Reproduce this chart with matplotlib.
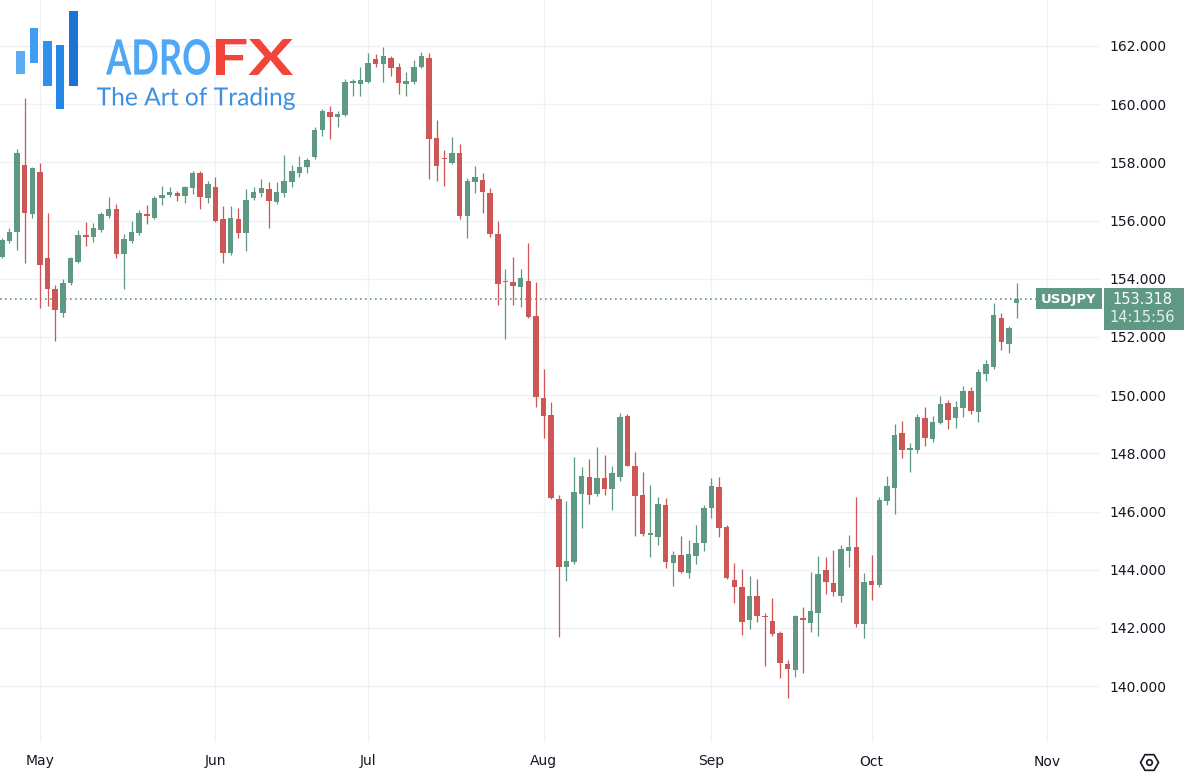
import matplotlib
matplotlib.use("Agg")
import matplotlib.pyplot as plt
from matplotlib.patches import Rectangle, PathPatch
from matplotlib.textpath import TextPath
from matplotlib.font_manager import FontProperties
from matplotlib.transforms import Affine2D
import numpy as np
import pandas as pd

# daily bars, USDJPY, 24 Apr - 28 Oct 2024 (weekdays only)
dates = pd.bdate_range("2024-04-24", "2024-10-28")

opens = [154.76, 155.30, 155.62, 157.90, 156.23,
         157.68, 154.70, 153.65, 152.83, 153.84, 154.59, 155.50, 155.45, 155.68, 156.14,
         156.40, 154.85, 155.31, 155.58, 156.22, 156.10, 156.77, 156.89, 156.96, 156.85,
         157.11, 157.65, 156.77,
         157.17, 156.04, 154.87, 156.04, 155.56, 156.77, 156.96, 157.08, 156.65, 156.96,
         157.34, 157.65, 157.83, 158.17, 159.11, 159.74, 159.57, 159.63, 160.74, 160.69,
         160.75, 161.55, 161.38, 161.60, 161.27, 160.68, 160.75, 161.27, 161.60, 158.83,
         158.14, 157.97, 158.31, 156.14, 157.34, 157.40, 156.96, 155.53, 153.88, 153.88,
         153.71, 153.92, 152.72,
         149.91, 149.32, 146.42, 144.10, 144.27, 146.60, 147.20, 146.59, 147.14, 146.77,
         147.20, 149.29, 147.57, 146.57, 145.20, 145.14, 146.23, 144.22, 144.50, 143.90,
         144.47, 144.91,
         146.11, 146.83, 145.48, 143.65, 143.42, 142.27, 143.10, 142.42, 142.25, 141.82,
         140.75, 140.55, 142.33, 142.18, 142.53, 144.00, 143.54, 143.11, 144.66, 144.77,
         142.14,
         143.62, 143.48, 146.37, 146.80, 148.69, 148.10, 148.12, 149.21, 148.48, 149.03,
         149.74, 149.23, 149.55, 150.14, 149.43, 150.72, 150.98, 152.64, 151.76, 153.18]

highs = [155.40, 155.76, 158.45, 160.20, 157.85,
         157.97, 156.27, 153.79, 154.00, 154.75, 155.68, 155.94, 155.90, 156.30, 156.80,
         156.56, 155.53, 155.99, 156.35, 156.54, 156.85, 157.19, 157.14, 157.00, 157.20,
         157.71, 157.72, 157.37,
         157.49, 156.50, 156.50, 156.42, 157.08, 157.17, 157.42, 157.34, 157.34, 158.25,
         157.91, 158.22, 158.14, 159.20, 159.82, 159.92, 159.75, 160.86, 160.87, 161.29,
         161.75, 161.73, 161.98, 161.66, 161.40, 161.12, 161.52, 161.80, 161.75, 159.46,
         158.43, 158.86, 158.62, 157.45, 157.88, 157.63, 157.11, 155.99, 154.33, 154.76,
         154.33, 155.22, 153.90,
         150.89, 149.78, 146.57, 146.36, 147.88, 147.52, 147.80, 148.21, 147.95, 147.58,
         149.40, 149.34, 148.06, 147.35, 146.91, 146.51, 146.48, 144.64, 145.16, 145.02,
         145.54, 146.23,
         147.14, 147.20, 145.54, 144.22, 144.03, 143.79, 143.68, 142.50, 143.02, 141.90,
         140.90, 142.45, 142.73, 143.93, 144.47, 144.43, 144.68, 144.85, 145.20, 146.49,
         143.88,
         144.51, 146.51, 147.22, 149.00, 149.11, 148.37, 149.35, 149.60, 149.30, 149.97,
         149.83, 149.80, 150.31, 150.29, 150.91, 151.21, 153.18, 152.83, 152.38, 153.87]

lows = [154.70, 155.22, 155.00, 154.53, 156.08,
        152.99, 153.07, 151.87, 152.70, 153.80, 154.55, 155.14, 155.27, 155.60, 156.10,
        154.70, 153.64, 155.22, 155.50, 155.87, 156.05, 156.54, 156.82, 156.68, 156.59,
        156.91, 156.39, 156.59,
        155.95, 154.55, 154.80, 155.39, 154.96, 156.70, 156.82, 155.73, 156.57, 156.82,
        157.17, 157.51, 157.63, 158.10, 158.90, 158.80, 159.20, 159.60, 160.29, 160.29,
        160.72, 161.29, 160.77, 160.98, 160.35, 160.29, 160.70, 161.25, 157.42, 157.37,
        157.19, 157.93, 156.06, 155.39, 156.96, 156.27, 155.45, 153.10, 151.93, 153.10,
        153.02, 152.64, 149.60,
        148.52, 146.42, 141.68, 143.62, 144.20, 145.45, 146.26, 146.55, 146.57, 146.05,
        147.05, 147.55, 145.17, 145.15, 144.45, 144.85, 144.05, 143.45, 143.88, 143.71,
        144.20, 144.66,
        145.77, 145.11, 143.68, 142.85, 141.76, 141.96, 142.20, 140.70, 141.72, 140.29,
        139.58, 140.31, 140.44, 141.87, 141.74, 143.17, 143.10, 142.88, 144.11, 142.04,
        141.65,
        142.96, 143.42, 146.23, 145.91, 147.83, 147.35, 148.02, 148.26, 148.40, 149.00,
        148.84, 148.86, 149.24, 149.35, 149.07, 150.50, 150.90, 151.55, 151.46, 152.66]

closes = [155.33, 155.62, 158.31, 156.27, 157.80,
          154.47, 153.65, 152.93, 153.87, 154.70, 155.50, 155.45, 155.73, 156.23, 156.40,
          154.85, 155.37, 155.60, 156.27, 156.17, 156.79, 156.88, 156.98, 156.85, 157.17,
          157.65, 156.81, 157.26,
          155.99, 154.87, 156.08, 155.56, 156.71, 156.99, 157.11, 156.67, 156.99, 157.36,
          157.71, 157.85, 158.08, 159.11, 159.78, 159.57, 159.66, 160.77, 160.79, 160.83,
          161.40, 161.38, 161.67, 161.23, 160.74, 160.80, 161.29, 161.66, 158.80, 157.88,
          158.10, 158.31, 156.14, 157.36, 157.49, 156.99, 155.53, 153.82, 153.92, 153.76,
          154.02, 152.68, 149.95,
          149.29, 146.46, 144.08, 144.30, 146.66, 147.22, 146.57, 147.16, 146.78, 147.32,
          149.26, 147.57, 146.55, 145.22, 145.26, 146.26, 144.27, 144.50, 143.91, 144.54,
          144.91, 146.13,
          146.88, 145.45, 143.71, 143.42, 142.22, 143.10, 142.41, 142.38, 141.78, 140.79,
          140.58, 142.41, 142.27, 142.58, 143.86, 143.57, 143.25, 144.70, 144.77, 142.14,
          143.57,
          143.48, 146.40, 146.88, 148.63, 148.12, 148.17, 149.26, 148.54, 149.07, 149.69,
          149.15, 149.60, 150.15, 149.46, 150.81, 151.07, 152.76, 151.82, 152.32, 153.318]

price_ticks = [140, 142, 144, 146, 148, 150, 152, 154, 156, 158, 160, 162]
month_labels = ["May", "Jun", "Jul", "Aug", "Sep", "Oct", "Nov"]
ticker = "USDJPY"
last_price = 153.318
countdown = "14:15:56"

up_col = "#5f9883"
down_col = "#cd5656"
grid_col = "#eff1f5"
text_col = "#131722"

W, H = 1184, 782
fig = plt.figure(figsize=(W / 100, H / 100), dpi=100)
ax = fig.add_axes([0, 40 / H, 1100 / W, 742 / H])

x = np.arange(len(dates))
o = np.array(opens)
h = np.array(highs)
l = np.array(lows)
c = np.array(closes)
cols = np.where(c >= o, up_col, down_col)

ax.vlines(x, l, h, colors=cols, linewidth=0.9, zorder=3)
ax.bar(x, np.maximum(np.abs(c - o), 0.035), bottom=np.minimum(o, c), width=0.72,
       color=cols, linewidth=0, zorder=4)

# first trading day of each month for the time axis
days = pd.bdate_range("2024-04-24", "2024-11-01")
month_pos = []
for m in [5, 6, 7, 8, 9, 10, 11]:
    month_pos.append(int(np.where(days.month == m)[0][0]))

ax.set_xlim(-0.24, 143.93)
ax.set_ylim(138.08, 163.58)
ax.set_xticks(month_pos)
ax.set_xticklabels(month_labels)
ax.set_yticks(price_ticks)
ax.set_yticklabels(["%.3f" % p for p in price_ticks])
ax.yaxis.tick_right()
ax.tick_params(axis="y", length=0, pad=7, labelsize=10, labelcolor=text_col)
ax.tick_params(axis="x", length=0, pad=9, labelsize=10, labelcolor=text_col)
ax.grid(True, color=grid_col, linewidth=1, zorder=0)
ax.set_axisbelow(True)
for s in ax.spines.values():
    s.set_visible(False)

# last price dotted line
ax.axhline(last_price, xmin=0, xmax=1036 / 1100, color=up_col, linestyle=(0, (1, 2)),
           linewidth=1.2, zorder=2)

# overlay in pixel coordinates for the labels and logo
ov = fig.add_axes([0, 0, 1, 1], facecolor="none")
ov.set_xlim(0, W)
ov.set_ylim(H, 0)
ov.axis("off")

ov.add_patch(Rectangle((1036, 288), 66, 21, color=up_col, lw=0))
ov.text(1069, 299, ticker, color="white", fontsize=9.5, fontweight="bold",
        ha="center", va="center")
ov.add_patch(Rectangle((1104, 288), 80, 42, color=up_col, lw=0))
ov.text(1142, 299, "%.3f" % last_price, color="white", fontsize=10.5, ha="center", va="center")
ov.text(1142, 318, countdown, color="#e3efea", fontsize=10.5, ha="center", va="center")

# settings icon bottom right
ov.plot(1149, 762, marker="H", ms=13, mfc="white", mec=text_col, mew=1.2)
ov.plot(1149, 762, marker="o", ms=4, mfc="white", mec=text_col, mew=1.2)

# logo
bars = [(16, 51, 9, 23, "#5cacf2"), (30, 28, 8, 35, "#409df0"), (43, 41, 9, 45, "#2f91eb"),
        (56, 45, 8, 64, "#2486e5"), (69, 11, 9, 75, "#1b74d1")]
for bx, by, bw, bh, bc in bars:
    ov.add_patch(Rectangle((bx, by), bw, bh, color=bc, lw=0))


def fit_text(s, x0, x1, y0, y1, color, weight="normal", family="Lato"):
    tp = TextPath((0, 0), s, size=100, prop=FontProperties(family=family, weight=weight))
    ext = tp.get_extents()
    sx = (x1 - x0) / ext.width
    sy = (y1 - y0) / ext.height
    tr = Affine2D().translate(-ext.x0, -ext.y1).scale(sx, -sy).translate(x0, y0)
    ov.add_patch(PathPatch(tr.transform_path(tp), color=color, lw=0))


fit_text("ADRO", 106, 210, 39, 75, "#4fa7f6", weight="bold")
fit_text("FX", 216, 293, 39, 75, "#f2453a", weight="bold")
fit_text("The Art of Trading", 97, 295, 87, 110, "#3d8fe2")

fig.savefig("out.png", dpi=100)
